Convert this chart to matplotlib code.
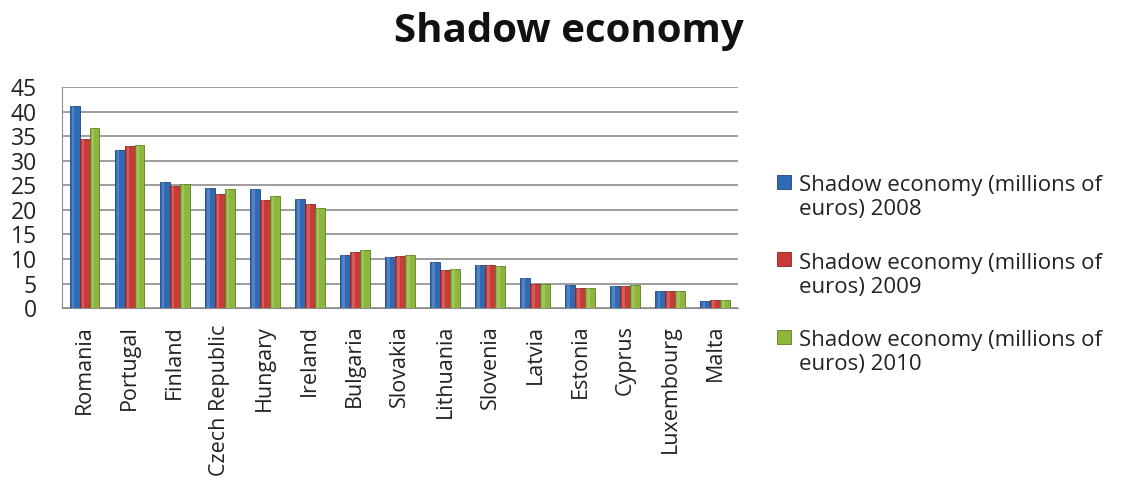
import numpy as np
import matplotlib.pyplot as plt
from matplotlib.patches import Rectangle
from matplotlib.container import BarContainer
from matplotlib.legend_handler import HandlerPatch, update_from_first_child

plt.rcParams['font.family'] = ['Open Sans', 'DejaVu Sans']

countries = ['Romania', 'Portugal', 'Finland', 'Czech Republic', 'Hungary',
             'Ireland', 'Bulgaria', 'Slovakia', 'Lithuania', 'Slovenia',
             'Latvia', 'Estonia', 'Cyprus', 'Luxembourg', 'Malta']
se_2008 = [41.2, 32.2, 25.6, 24.5, 24.2, 22.2, 10.9, 10.4, 9.3, 8.8, 6.1, 4.8, 4.5, 3.4, 1.4]
se_2009 = [34.5, 33.0, 24.8, 23.2, 22.0, 21.2, 11.4, 10.7, 7.8, 8.8, 5.0, 4.2, 4.5, 3.4, 1.6]
se_2010 = [36.6, 33.2, 25.3, 24.3, 22.9, 20.4, 11.9, 10.9, 8.0, 8.6, 5.0, 4.2, 4.8, 3.4, 1.6]
labels = ['Shadow economy (millions of\neuros) 2008',
          'Shadow economy (millions of\neuros) 2009',
          'Shadow economy (millions of\neuros) 2010']

colors = ['#2f6bb5', '#c83b39', '#8db63c']
edges = ['#1d4680', '#8a2422', '#5e7d24']


def top_square(legend, orig_handle, xdescent, ydescent, width, height, fontsize):
    # square key sitting next to the first line of a two-line label
    s = 0.62 * fontsize
    return Rectangle((-xdescent, -ydescent + 0.75 * fontsize), s, s)


fig = plt.figure(figsize=(11.28, 4.83), dpi=100)
ax = fig.add_axes([0.055, 0.362, 0.599, 0.458])

x = np.arange(len(countries))
w = 0.22
for i, (vals, c, ec, lab) in enumerate(zip([se_2008, se_2009, se_2010], colors, edges, labels)):
    ax.bar(x + (i - 1) * w, vals, width=w, color=c, edgecolor=ec, linewidth=0.6,
           label=lab, zorder=3)
    # thin highlight stripe to hint at the bevelled bars
    ax.bar(x + (i - 1) * w - w * 0.15, vals, width=w * 0.25, color='white',
           alpha=0.18, linewidth=0, zorder=4)

ax.set_xlim(-0.5, len(countries) - 0.5)
ax.set_ylim(0, 45)
ax.set_yticks(range(0, 46, 5))
ax.yaxis.grid(True, color='#8c8c8c', linewidth=1.2, zorder=0)
ax.set_axisbelow(True)
ax.tick_params(axis='y', length=0, labelsize=16.5, pad=18, colors='#222222')
ax.tick_params(axis='x', length=0, labelsize=15.5, pad=12, colors='#222222')
ax.set_xticks(x)
ax.set_xticklabels(countries, rotation=90)
for s in ['top', 'right']:
    ax.spines[s].set_visible(False)
ax.spines['left'].set_color('#8c8c8c')
ax.spines['bottom'].set_color('#8c8c8c')

fig.text(0.504, 0.935, 'Shadow economy', ha='center', va='center',
         fontsize=29, fontweight='bold', color='#111111')

key = HandlerPatch(patch_func=top_square, update_func=update_from_first_child)
fig.legend(loc='center left', bbox_to_anchor=(0.671, 0.43), frameon=False,
           fontsize=16, handlelength=0.65, handleheight=0.65, handletextpad=0.35,
           labelspacing=1.45, labelcolor='#222222',
           handler_map={BarContainer: key})

fig.savefig('out.png', dpi=100)
